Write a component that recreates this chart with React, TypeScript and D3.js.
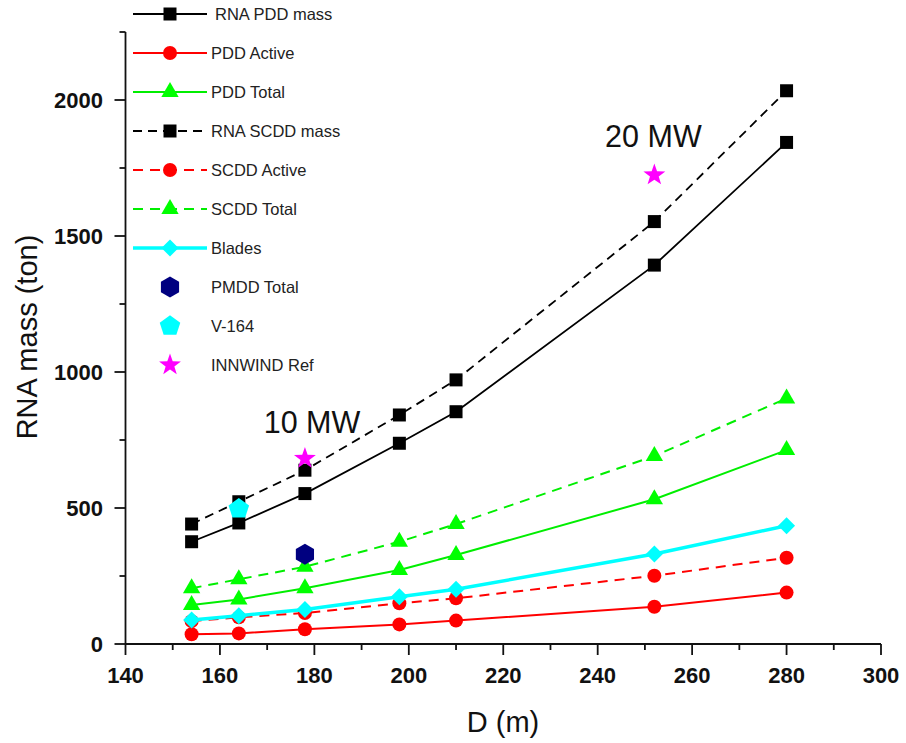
import React from "react";
import * as d3 from "d3";

// Rotor diameter (m)
const diameters = [154, 164, 178, 198, 210, 252, 280];

// Mass series (ton)
const rnaPddMass = [376, 445, 553, 738, 854, 1393, 1844];
const pddActive = [36, 39, 54, 72, 86, 137, 189];
const pddTotal = [143, 164, 205, 272, 327, 532, 713];
const rnaScddMass = [441, 523, 639, 842, 971, 1553, 2034];
const scddActive = [84, 98, 114, 150, 168, 251, 317];
const scddTotal = [205, 238, 284, 376, 441, 691, 903];
const bladesMass = [88, 104, 127, 174, 201, 331, 435];

// Single reference designs: [D, mass]
const pmddTotal = [[178, 330]];
const v164 = [[164, 497]];
const innwindRef = [[178, 682], [252, 1724]];

// Annotations: [D, mass, text]
const annotations: [number, number, string][] = [
  [179.5, 776, "10 MW"],
  [251.8, 1827, "20 MW"],
];

const xTicks = [140, 160, 180, 200, 220, 240, 260, 280, 300];
const xMinor = [150, 170, 190, 210, 230, 250, 270, 290];
const yTicks = [0, 500, 1000, 1500, 2000];
const yMinor = [250, 750, 1250, 1750, 2250];

const FONT = "'Liberation Sans', Arial, Helvetica, sans-serif";

const W = 906;
const H = 743;
const left = 125.5;
const right = 881;
const bottom = 644;
const top = 32;

type Marker = "square" | "circle" | "triangle" | "diamond" | "hexagon" | "pentagon" | "star";

function polygon(n: number, r: number, rot = -Math.PI / 2) {
  const pts: string[] = [];
  for (let i = 0; i < n; i++) {
    const a = rot + (i * 2 * Math.PI) / n;
    pts.push(`${(r * Math.cos(a)).toFixed(2)},${(r * Math.sin(a)).toFixed(2)}`);
  }
  return "M" + pts.join("L") + "Z";
}

function starPath(ro: number, ri: number) {
  const pts: string[] = [];
  for (let i = 0; i < 10; i++) {
    const r = i % 2 === 0 ? ro : ri;
    const a = -Math.PI / 2 + (i * Math.PI) / 5;
    pts.push(`${(r * Math.cos(a)).toFixed(2)},${(r * Math.sin(a)).toFixed(2)}`);
  }
  return "M" + pts.join("L") + "Z";
}

function markerPath(m: Marker): string {
  switch (m) {
    case "square":
      return d3.symbol(d3.symbolSquare, 13 * 13)() as string;
    case "circle":
      return d3.symbol(d3.symbolCircle, Math.PI * 7 * 7)() as string;
    case "triangle":
      return d3.symbol(d3.symbolTriangle, 130)() as string;
    case "diamond":
      return "M0,-8.5L8.5,0L0,8.5L-8.5,0Z";
    case "hexagon":
      return polygon(6, 10.5);
    case "pentagon":
      return polygon(5, 10.8);
    case "star":
      return starPath(11.5, 4.6);
  }
}

interface LineSeries {
  name: string;
  values: number[];
  color: string;
  dash?: string;
  width: number;
  marker: Marker;
}

interface PointSeries {
  name: string;
  points: number[][];
  color: string;
  marker: Marker;
}

const lineSeries: LineSeries[] = [
  { name: "RNA PDD mass", values: rnaPddMass, color: "#000000", width: 1.8, marker: "square" },
  { name: "PDD Active", values: pddActive, color: "#ff0000", width: 2, marker: "circle" },
  { name: "PDD Total", values: pddTotal, color: "#00ee00", width: 2, marker: "triangle" },
  { name: "RNA SCDD mass", values: rnaScddMass, color: "#000000", dash: "9,6", width: 1.8, marker: "square" },
  { name: "SCDD Active", values: scddActive, color: "#ff0000", dash: "10,7", width: 2, marker: "circle" },
  { name: "SCDD Total", values: scddTotal, color: "#00ee00", dash: "10,7", width: 2, marker: "triangle" },
  { name: "Blades", values: bladesMass, color: "#00ffff", width: 3.5, marker: "diamond" },
];

const pointSeries: PointSeries[] = [
  { name: "PMDD Total", points: pmddTotal, color: "#000080", marker: "hexagon" },
  { name: "V-164", points: v164, color: "#00ffff", marker: "pentagon" },
  { name: "INNWIND Ref", points: innwindRef, color: "#ff00ff", marker: "star" },
];

const fillFor = (c: string) => (c === "#00ee00" ? "#00ff00" : c);

export default function App() {
  const x = d3.scaleLinear().domain([140, 300]).range([left, right]);
  const y = d3.scaleLinear().domain([0, 2250]).range([bottom, top]);

  const line = d3
    .line<number>()
    .x((_, i) => x(diameters[i]))
    .y((v) => y(v));

  const legendX0 = 133;
  const legendX1 = 207;
  const legendMid = 170;
  const legendRow = (i: number) => 14 + i * 39;

  return (
    <div style={{ position: "absolute", left: 0, top: 0 }}>
      <svg width={W} height={H} style={{ display: "block", background: "#fff" }} fontFamily={FONT}>
        {/* axes */}
        <line x1={left} x2={left} y1={top} y2={bottom} stroke="#111" strokeWidth={1.8} />
        <line x1={left} x2={right} y1={bottom} y2={bottom} stroke="#111" strokeWidth={1.8} />
        {yTicks.map((t) => (
          <g key={"yt" + t}>
            <line x1={left - 11} x2={left} y1={y(t)} y2={y(t)} stroke="#111" strokeWidth={1.8} />
            <text
              x={103}
              y={y(t)}
              dy="0.36em"
              textAnchor="end"
              fontSize={22}
              fontWeight="bold"
              fill="#111"
            >
              {t}
            </text>
          </g>
        ))}
        {yMinor.map((t) => (
          <line key={"ym" + t} x1={left - 6} x2={left} y1={y(t)} y2={y(t)} stroke="#111" strokeWidth={1.8} />
        ))}
        {xTicks.map((t) => (
          <g key={"xt" + t}>
            <line x1={x(t)} x2={x(t)} y1={bottom} y2={bottom + 11} stroke="#111" strokeWidth={1.8} />
            <text x={x(t)} y={683} textAnchor="middle" fontSize={22} fontWeight="bold" fill="#111">
              {t}
            </text>
          </g>
        ))}
        {xMinor.map((t) => (
          <line key={"xm" + t} x1={x(t)} x2={x(t)} y1={bottom} y2={bottom + 6} stroke="#111" strokeWidth={1.8} />
        ))}
        <text x={503} y={732} textAnchor="middle" fontSize={29} fill="#111">
          D (m)
        </text>
        <text transform="translate(37,337) rotate(-90)" textAnchor="middle" fontSize={29} fill="#111">
          RNA mass (ton)
        </text>

        {/* series lines and markers */}
        {lineSeries.map((s) => (
          <g key={s.name}>
            <path
              d={line(s.values) as string}
              fill="none"
              stroke={s.color}
              strokeWidth={s.width}
              strokeDasharray={s.dash}
            />
            {s.values.map((v, i) => (
              <path
                key={i}
                d={markerPath(s.marker)}
                transform={`translate(${x(diameters[i])},${y(v)})`}
                fill={fillFor(s.color)}
              />
            ))}
          </g>
        ))}
        {pointSeries.map((s) => (
          <g key={s.name}>
            {s.points.map((p, i) => (
              <path key={i} d={markerPath(s.marker)} transform={`translate(${x(p[0])},${y(p[1])})`} fill={s.color} />
            ))}
          </g>
        ))}

        {/* power class annotations */}
        {annotations.map(([d, m, t]) => (
          <text key={t} x={x(d)} y={y(m)} textAnchor="middle" fontSize={30.5} fill="#111">
            {t}
          </text>
        ))}

        {/* legend */}
        {lineSeries.map((s, i) => (
          <g key={"lg" + s.name}>
            <line
              x1={legendX0}
              x2={legendX1}
              y1={legendRow(i)}
              y2={legendRow(i)}
              stroke={s.color}
              strokeWidth={s.width}
              strokeDasharray={s.dash}
            />
            <path d={markerPath(s.marker)} transform={`translate(${legendMid},${legendRow(i)})`} fill={fillFor(s.color)} />
            <text x={i === 0 ? 215 : 211} y={legendRow(i)} dy="0.36em" fontSize={16.5} fill="#222">
              {s.name}
            </text>
          </g>
        ))}
        {pointSeries.map((s, j) => {
          const i = lineSeries.length + j;
          return (
            <g key={"lg" + s.name}>
              <path d={markerPath(s.marker)} transform={`translate(${legendMid},${legendRow(i)})`} fill={s.color} />
              <text x={211} y={legendRow(i)} dy="0.36em" fontSize={16.5} fill="#222">
                {s.name}
              </text>
            </g>
          );
        })}
      </svg>
    </div>
  );
}
